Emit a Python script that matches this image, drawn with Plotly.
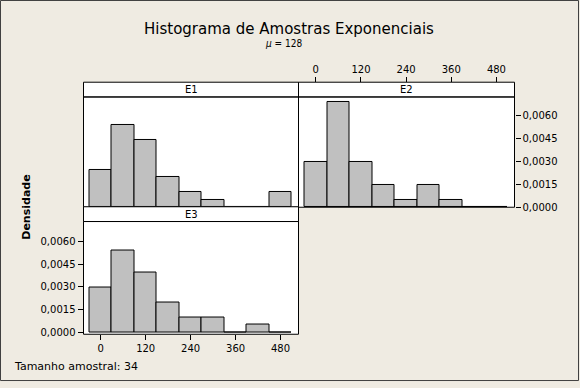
import plotly.graph_objects as go

# ---- data ----
bin_centers = [0, 60, 120, 180, 240, 300, 360, 420, 480]
counts_e1 = [5, 11, 9, 4, 2, 1, 0, 0, 2]
counts_e2 = [6, 14, 6, 3, 1, 3, 1, 0, 0]
counts_e3 = [6, 11, 8, 4, 2, 2, 0, 1, 0]
panel_names = ["E1", "E2", "E3"]
sample_size = 34
bin_width = 60
x_ticks = [0, 120, 240, 360, 480]
y_ticks = [0.0, 0.0015, 0.0030, 0.0045, 0.0060]

W, H = 580, 388
BG = "#EFEBE2"
FONT = "DejaVu Sans"


def fx(px):
    return px / W


def fy(py):
    return 1 - py / H


def density(counts):
    return [c / (sample_size * bin_width) for c in counts]


# panel geometry (pixels)
cols = [(83.5, 298.5), (298.5, 514.5)]
row1 = (98.5, 210.5)   # plot area row 1 (top, bottom)
row2 = (225.0, 339.5)  # plot area row 2
strip_h = 15

fig = go.Figure()
bar_style = dict(marker=dict(color="#C0C0C0", line=dict(color="black", width=1)),
                 width=bin_width, showlegend=False, hoverinfo="x+y")
fig.add_trace(go.Bar(x=bin_centers, y=density(counts_e1), xaxis="x", yaxis="y", **bar_style))
fig.add_trace(go.Bar(x=bin_centers, y=density(counts_e2), xaxis="x2", yaxis="y2", **bar_style))
fig.add_trace(go.Bar(x=bin_centers, y=density(counts_e3), xaxis="x3", yaxis="y3", **bar_style))

tickfont = dict(family=FONT, size=10, color="black")
xr = [-46, 528]
yr1 = [0, 0.00722]
yr2 = [-0.00012, 0.0073]
common = dict(showgrid=False, zeroline=False, showline=False, fixedrange=True)

fig.update_layout(
    xaxis=dict(domain=[fx(cols[0][0]), fx(cols[0][1])], range=xr, anchor="y",
               showticklabels=False, ticks="", **common),
    yaxis=dict(domain=[fy(row1[1]), fy(row1[0])], range=yr1, anchor="x",
               showticklabels=False, ticks="", **common),
    xaxis2=dict(domain=[fx(cols[1][0]), fx(cols[1][1])], range=xr, anchor="free",
                position=fy(row1[0] - strip_h), side="top",
                tickvals=x_ticks, ticks="outside", ticklen=5, tickcolor="black",
                tickfont=tickfont, **common),
    yaxis2=dict(domain=[fy(row1[1]), fy(row1[0])], range=yr1, anchor="x2", side="right",
                tickvals=y_ticks, tickformat=".4f", ticks="outside", ticklen=5,
                tickcolor="black", tickfont=tickfont, **common),
    xaxis3=dict(domain=[fx(cols[0][0]), fx(cols[0][1])], range=xr, anchor="y3",
                tickvals=x_ticks, ticks="outside", ticklen=5, tickcolor="black",
                tickfont=tickfont, **common),
    yaxis3=dict(domain=[fy(row2[1]), fy(row2[0])], range=yr2, anchor="x3",
                tickvals=y_ticks, tickformat=".4f", ticks="outside", ticklen=5,
                tickcolor="black", tickfont=tickfont, **common),
    separators=", ",
    width=W, height=H,
    margin=dict(l=0, r=0, t=0, b=0),
    paper_bgcolor=BG,
    plot_bgcolor="white",
    bargap=0,
)

shapes = []
annotations = []
panels = [(cols[0], row1), (cols[1], row1), (cols[0], row2)]
for name, (c, r) in zip(panel_names, panels):
    # strip
    shapes.append(dict(type="rect", xref="paper", yref="paper",
                       x0=fx(c[0]), x1=fx(c[1]), y0=fy(r[0]), y1=fy(r[0] - strip_h),
                       fillcolor="white", line=dict(color="black", width=1)))
    # panel border
    shapes.append(dict(type="rect", xref="paper", yref="paper",
                       x0=fx(c[0]), x1=fx(c[1]), y0=fy(r[1]), y1=fy(r[0]),
                       fillcolor="rgba(0,0,0,0)", line=dict(color="black", width=1)))
    annotations.append(dict(text=name, xref="paper", yref="paper",
                            x=fx((c[0] + c[1]) / 2), y=fy(r[0] - strip_h / 2),
                            showarrow=False, xanchor="center", yanchor="middle",
                            font=dict(family=FONT, size=10, color="black")))

# outer window frame
shapes.append(dict(type="rect", xref="paper", yref="paper",
                   x0=fx(0.5), x1=fx(W - 1.5), y0=fy(H - 1.5), y1=fy(0.5),
                   line=dict(color="#404040", width=1)))

annotations += [
    dict(text="Histograma de Amostras Exponenciais", xref="paper", yref="paper",
         x=fx(289), y=fy(29), showarrow=False, xanchor="center", yanchor="middle",
         font=dict(family=FONT, size=15, color="black")),
    dict(text="<i>μ</i> = 128", xref="paper", yref="paper",
         x=fx(283), y=fy(44), showarrow=False, xanchor="center", yanchor="middle",
         font=dict(family="DejaVu Sans Condensed, " + FONT, size=10, color="black")),
    dict(text="<b>Densidade</b>", xref="paper", yref="paper",
         x=fx(27), y=fy(211), showarrow=False, textangle=-90,
         xanchor="center", yanchor="middle",
         font=dict(family=FONT, size=11, color="black")),
    dict(text="Tamanho amostral: " + str(sample_size), xref="paper", yref="paper",
         x=fx(12), y=fy(372), showarrow=False, xanchor="left", yanchor="middle",
         font=dict(family=FONT, size=11, color="black")),
]

fig.update_layout(shapes=shapes, annotations=annotations)
fig.write_html("out.html", config={"displayModeBar": False},
               post_script="document.body.style.margin='0';document.body.style.padding='0';")
